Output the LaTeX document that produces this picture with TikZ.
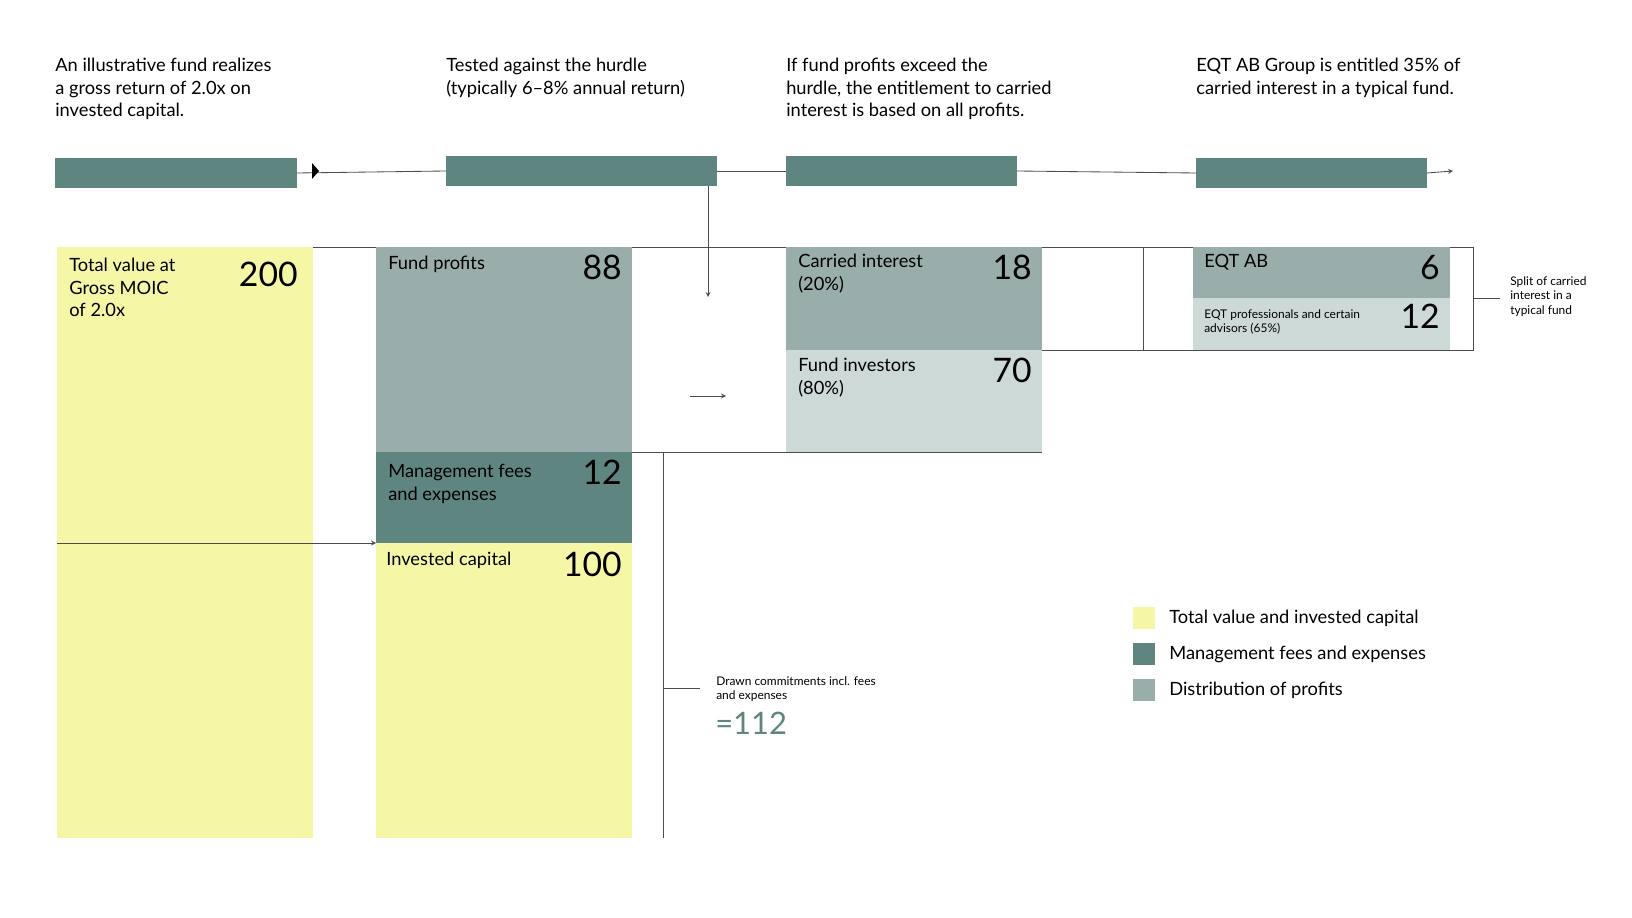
\documentclass[tikz,border=0pt]{standalone}
\usepackage{fontspec}
\setmainfont{Lato}
\usetikzlibrary{calc,positioning}
\definecolor{teal}{HTML}{5E8580}
\definecolor{sage}{HTML}{99ADAA}
\definecolor{mist}{HTML}{CDD9D7}
\definecolor{lemon}{HTML}{F5F7A6}
\def\pxu{0.025cm}
\tikzstyle{block}  = [anchor=north west,inner sep=0pt,outer sep=0pt]
\tikzstyle{title}  = [anchor=north west,inner sep=0pt,align=left,font=\fontsize{13}{16}\selectfont]
\tikzstyle{label}  = [anchor=north west,inner sep=0pt,align=left,font=\fontsize{13}{16}\selectfont]
\tikzstyle{small}  = [anchor=north west,inner sep=0pt,align=left,font=\fontsize{8.5}{10.5}\selectfont]
\tikzstyle{value}  = [anchor=north east,inner sep=0pt,font=\fontsize{24}{26}\selectfont]
\tikzstyle{rule}   = [draw=black!70,line width=0.6pt]
\begin{document}
\begin{tikzpicture}[x=\pxu,y=-\pxu]
    \useasboundingbox (0,0) rectangle (1632,918);

    % Titles
    \node[title] (t1) at (55,58) {An illustrative fund realizes\\a gross return of 2.0x on\\invested capital.};
    \node[title] (t2) at (446,58) {Tested against the hurdle\\(typically 6--8\% annual return)};
    \node[title] (t3) at (786,58) {If fund profits exceed the\\hurdle, the entitlement to carried\\interest is based on all profits.};
    \node[title] (t4) at (1196,58) {EQT AB Group is entitled 35\% of\\carried interest in a typical fund.};

    % Timeline bars
    \node[block,fill=teal,minimum width={242*\pxu},minimum height={30*\pxu}] (b1) at (55,158) {};
    \node[block,fill=teal,minimum width={271*\pxu},minimum height={30*\pxu}] (b2) at (446,156) {};
    \node[block,fill=teal,minimum width={231*\pxu},minimum height={30*\pxu}] (b3) at (786,156) {};
    \node[block,fill=teal,minimum width={231*\pxu},minimum height={30*\pxu}] (b4) at (1196,158) {};
    \coordinate (tEnd) at (1453,171);
    \draw[rule] (b1.east) -- (b2.west);
    \fill[black] (319,171) -- (312,163) -- (312,179) -- cycle;
    \draw[rule] (b2.east|-b3.west) -- (b3.west);
    \draw[rule] (b3.east) -- (b4.west);
    \draw[rule,->,>=stealth] (b4.east) -- (tEnd);
    \coordinate (down) at (708,297);
    \draw[rule,->,>=stealth] (708,186) -- (down);

    % Frame lines
    \draw[rule] (57,247) -- (1473,247) -- (1473,350) -- (786,350);
    \draw[rule] (1143,247) -- (1143,350);
    \draw[rule] (630,452) -- (1042,452);
    \draw[rule] (663,452) -- (663,838);

    % Column 1
    \node[block,fill=lemon,minimum width={256*\pxu},minimum height={591*\pxu}] (total) at (57,247) {};
    \node[label] at (69,258) {Total value at\\Gross MOIC\\of 2.0x};
    \node[value] at (298,262) {200};

    % Column 2
    \node[block,fill=sage,minimum width={256*\pxu},minimum height={205*\pxu}] (profits) at (376,247) {};
    \node[label] at (388,256) {Fund profits};
    \node[value] at (622,255) {88};
    \node[block,fill=teal,minimum width={256*\pxu},minimum height={91*\pxu}] (fees) at (376,452) {};
    \node[label] at (388,464) {Management fees\\and expenses};
    \node[value] at (622,460) {12};
    \node[block,fill=lemon,minimum width={256*\pxu},minimum height={295*\pxu}] (capital) at (376,543) {};
    \node[label] at (386,552) {Invested capital};
    \node[value] at (622,552) {100};
    \draw[rule,->,>=stealth] (57,543) -- (capital.north west);

    % Column 3
    \node[block,fill=sage,minimum width={256*\pxu},minimum height={103*\pxu}] (carry) at (786,247) {};
    \node[label] at (798,254) {Carried interest\\(20\%)};
    \node[value] at (1032,255) {18};
    \node[block,fill=mist,minimum width={256*\pxu},minimum height={102*\pxu}] (investors) at (786,350) {};
    \node[label] at (798,358) {Fund investors\\(80\%)};
    \node[value] at (1032,358) {70};
    \coordinate (mFrom) at (690,396);
    \coordinate (mTo) at (726,396);
    \draw[rule,->,>=stealth] (mFrom) -- (mTo);

    % Column 4
    \node[block,fill=sage,minimum width={257*\pxu},minimum height={51*\pxu}] (eqt) at (1193,247) {};
    \node[label] at (1204,254) {EQT AB};
    \node[value] at (1440,255) {6};
    \node[block,fill=mist,minimum width={257*\pxu},minimum height={52*\pxu}] (pros) at (1193,298) {};
    \node[small] at (1204,309) {EQT professionals and certain\\advisors (65\%)};
    \node[value] at (1440,304) {12};
    \coordinate (split) at (1500,298);
    \draw[rule] (1473,298) -- (split);
    \node[small] (splitText) at (1510,276) {Split of carried\\interest in a\\typical fund};

    % Drawn commitments
    \coordinate (dc) at (700,688);
    \draw[rule] (663,688) -- (dc);
    \node[small] (dcText) at (716,676) {Drawn commitments incl. fees\\and expenses};
    \node[anchor=north west,inner sep=0pt,text=teal,font=\fontsize{22}{24}\selectfont] (sum) at (715,712) {=112};

    % Legend
    \node[block,fill=lemon,minimum size={22*\pxu}] (k1) at (1133,607) {};
    \node[block,fill=teal,minimum size={22*\pxu}] (k2) at (1133,643) {};
    \node[block,fill=sage,minimum size={22*\pxu}] (k3) at (1133,679) {};
    \node[right=10pt of k1,inner sep=0pt,font=\fontsize{13}{16}\selectfont] {Total value and invested capital};
    \node[right=10pt of k2,inner sep=0pt,font=\fontsize{13}{16}\selectfont] {Management fees and expenses};
    \node[right=10pt of k3,inner sep=0pt,font=\fontsize{13}{16}\selectfont] {Distribution of profits};
\end{tikzpicture}
\end{document}
